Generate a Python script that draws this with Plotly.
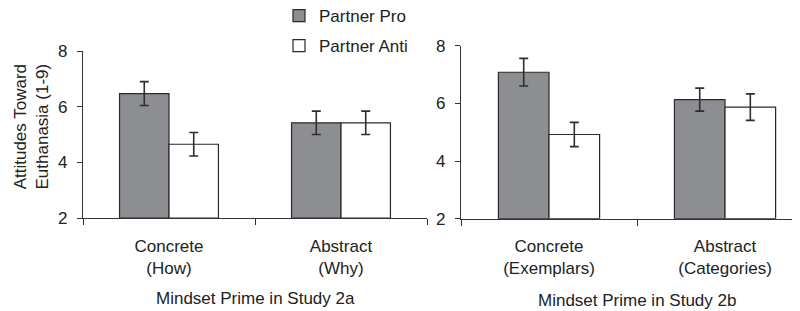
import plotly.graph_objects as go

# ---- data ----
series_names = ["Partner Pro", "Partner Anti"]
cats_2a = ["Concrete<br>(How)", "Abstract<br>(Why)"]
cats_2b = ["Concrete<br>(Exemplars)", "Abstract<br>(Categories)"]
pro_2a = [6.47, 5.42]
anti_2a = [4.65, 5.42]
pro_2a_err = [0.43, 0.42]
anti_2a_err = [0.42, 0.42]
pro_2b = [7.08, 6.13]
anti_2b = [4.92, 5.87]
pro_2b_err = [0.48, 0.40]
anti_2b_err = [0.42, 0.46]
y_ticks = [2, 4, 6, 8]
x_title_2a = "Mindset Prime in Study 2a"
x_title_2b = "Mindset Prime in Study 2b"
y_title = "Attitudes Toward<br>Euthanasia (1-9)"

# ---- styles ----
GRAY = "#8d8e92"
EDGE = "#2a2a2a"
TXT = "#222222"
FONT = "Liberation Sans, Arial, sans-serif"
fills = [GRAY, "#ffffff"]

fig = go.Figure()

def add_panel(cats, pro, anti, pro_e, anti_e, xa, ya, show):
    for i, (vals, errs) in enumerate([(pro, pro_e), (anti, anti_e)]):
        fig.add_trace(go.Bar(
            x=cats, y=[v - 2 for v in vals], base=2,
            name=series_names[i], legendgroup=series_names[i], showlegend=show,
            marker=dict(color=fills[i], line=dict(color=EDGE, width=1.2)),
            error_y=dict(type="data", array=errs, color="#2e2e2e", thickness=1.6, width=4.5),
            xaxis=xa, yaxis=ya, offsetgroup=str(i),
        ))

add_panel(cats_2a, pro_2a, anti_2a, pro_2a_err, anti_2a_err, "x", "y", True)
add_panel(cats_2b, pro_2b, anti_2b, pro_2b_err, anti_2b_err, "x2", "y2", False)

xcommon = dict(type="category", showline=True, linecolor="#333333", linewidth=1.2,
               ticks="outside", tickson="boundaries", ticklen=6, tickcolor="#333333",
               showgrid=False, zeroline=False, tickfont=dict(size=17, color=TXT, family=FONT),
               ticklabelstandoff=12, automargin=False)
ycommon = dict(range=[2, 8], tickvals=y_ticks, showline=True, linecolor="#333333", linewidth=1.2,
               ticks="outside", ticklen=5, tickcolor="#333333", showgrid=False, zeroline=False,
               tickfont=dict(size=17, color=TXT, family=FONT), automargin=False,
               ticklabelstandoff=6)

H = 311.0
W = 800.0
OFF = 8.0  # page body offset


def px_x(p):
    return (p - OFF) / W


def px_y(p):
    return (H - (p - OFF)) / H


fig.update_layout(
    width=800, height=311,
    margin=dict(l=0, r=0, t=0, b=0, pad=0, autoexpand=False),
    paper_bgcolor="white", plot_bgcolor="white",
    barmode="group", bargap=0.425, bargroupgap=0,
    font=dict(family=FONT, color=TXT, size=17),
    xaxis=dict(domain=[px_x(83), px_x(427)], range=[-0.5, 1.5], anchor="y", **xcommon),
    yaxis=dict(domain=[px_y(218), px_y(51)], anchor="x", **ycommon),
    xaxis2=dict(domain=[px_x(461), px_x(800)], range=[-0.5, 1.426], anchor="y2", **xcommon),
    yaxis2=dict(domain=[px_y(218.7), px_y(45.7)], anchor="x2", **ycommon),
    legend=dict(x=px_x(279), y=px_y(-2), xanchor="left", yanchor="top", bgcolor="rgba(0,0,0,0)",
                font=dict(size=17, color=TXT, family=FONT), tracegroupgap=5, traceorder="grouped"),
    showlegend=True,
)

fig.add_annotation(text=x_title_2a, xref="x", yref="paper", x=0.5, y=px_y(298),
                   showarrow=False, font=dict(size=17, color=TXT, family=FONT), yanchor="middle")
fig.add_annotation(text=x_title_2b, xref="x2", yref="paper", x=0.5, y=px_y(300),
                   showarrow=False, font=dict(size=17, color=TXT, family=FONT), yanchor="middle")
fig.add_annotation(text=y_title, xref="paper", yref="paper", x=px_x(31.5), y=px_y(127),
                   textangle=-90, showarrow=False, font=dict(size=17, color=TXT, family=FONT),
                   xanchor="center", yanchor="middle")

fig.write_html("out.html")
